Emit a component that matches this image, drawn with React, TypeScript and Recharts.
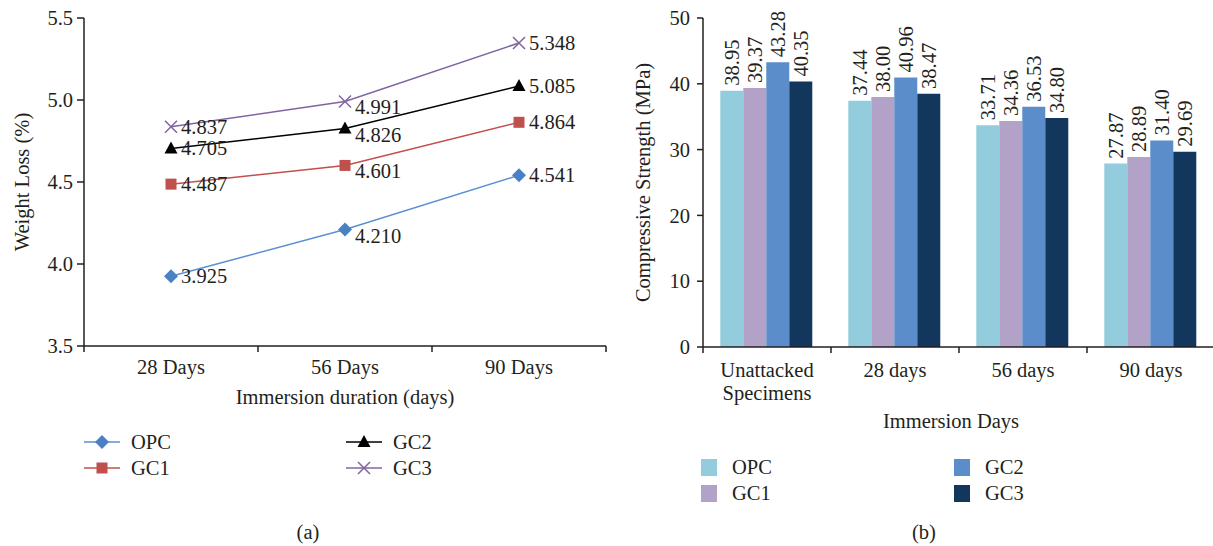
import { Bar, BarChart, Label, LabelList, Line, LineChart, Text, XAxis, YAxis } from "recharts";

// (a) weight loss
const days = ["28 Days", "56 Days", "90 Days"];
const opcLoss = [3.925, 4.21, 4.541];
const gc1Loss = [4.487, 4.601, 4.864];
const gc2Loss = [4.705, 4.826, 5.085];
const gc3Loss = [4.837, 4.991, 5.348];
const lossTicks = [3.5, 4.0, 4.5, 5.0, 5.5];

// (b) compressive strength
const stages = ["Unattacked Specimens", "28 days", "56 days", "90 days"];
const opcStrength = [38.95, 37.44, 33.71, 27.87];
const gc1Strength = [39.37, 38.0, 34.36, 28.89];
const gc2Strength = [43.28, 40.96, 36.53, 31.4];
const gc3Strength = [40.35, 38.47, 34.8, 29.69];
const strengthTicks = [0, 10, 20, 30, 40, 50];

const lossData = days.map((day, i) => ({
  day,
  OPC: opcLoss[i],
  GC1: gc1Loss[i],
  GC2: gc2Loss[i],
  GC3: gc3Loss[i],
}));

const strengthData = stages.map((stage, i) => ({
  stage,
  OPC: opcStrength[i],
  GC1: gc1Strength[i],
  GC2: gc2Strength[i],
  GC3: gc3Strength[i],
}));

const FONT = '"Liberation Serif", "DejaVu Serif", serif';
const INK = "#231f20";
const FS = 20.5;

type Shape = "diamond" | "square" | "triangle" | "x";

const lineSeries: { key: string; line: string; fill: string; shape: Shape }[] = [
  { key: "OPC", line: "#5b8fd4", fill: "#4a80c4", shape: "diamond" },
  { key: "GC1", line: "#c0504d", fill: "#c0504d", shape: "square" },
  { key: "GC2", line: "#000000", fill: "#000000", shape: "triangle" },
  { key: "GC3", line: "#8064a2", fill: "#8064a2", shape: "x" },
];

const barSeries = [
  { key: "OPC", color: "#93cddd" },
  { key: "GC1", color: "#b3a2c7" },
  { key: "GC2", color: "#5a8dca" },
  { key: "GC3", color: "#12365c" },
];

// chart geometry
const A_W = 620;
const A_H = 420;
const A_LEFT = 84;
const A_RIGHT = 14;
const A_HALF = (A_W - A_LEFT - A_RIGHT) / days.length / 2;

const B_W = 615;
const B_H = 440;
const B_LEFT = 103;
const B_HALF = (B_W - B_LEFT) / stages.length / 2;

function marker(shape: Shape, cx: number, cy: number, color: string, key?: any) {
  if (shape === "diamond")
    return <path key={key} d={`M${cx},${cy - 7}L${cx + 7},${cy}L${cx},${cy + 7}L${cx - 7},${cy}Z`} fill={color} />;
  if (shape === "square")
    return <rect key={key} x={cx - 5.5} y={cy - 5.5} width={11} height={11} fill={color} />;
  if (shape === "triangle")
    return <path key={key} d={`M${cx},${cy - 7}L${cx + 6.5},${cy + 5}L${cx - 6.5},${cy + 5}Z`} fill={color} />;
  return (
    <path
      key={key}
      d={`M${cx - 6},${cy - 6}L${cx + 6},${cy + 6}M${cx - 6},${cy + 6}L${cx + 6},${cy - 6}`}
      stroke={color}
      strokeWidth={1.5}
      fill="none"
    />
  );
}

const dayTick = (props: any) => {
  const { x, y, payload, index } = props;
  return (
    <g>
      <line x1={x - A_HALF} x2={x - A_HALF} y1={y} y2={y + 6} stroke={INK} strokeWidth={1.5} />
      {index === days.length - 1 && (
        <line x1={x + A_HALF} x2={x + A_HALF} y1={y} y2={y + 6} stroke={INK} strokeWidth={1.5} />
      )}
      <text x={x} y={y + 28} textAnchor="middle" fill={INK} fontSize={FS} fontFamily={FONT}>
        {payload.value}
      </text>
    </g>
  );
};

const stageTick = (props: any) => {
  const { x, y, payload, index } = props;
  return (
    <g>
      <line x1={x - B_HALF} x2={x - B_HALF} y1={y} y2={y + 6} stroke={INK} strokeWidth={1.5} />
      {index === stages.length - 1 && (
        <line x1={x + B_HALF} x2={x + B_HALF} y1={y} y2={y + 6} stroke={INK} strokeWidth={1.5} />
      )}
      <Text
        x={x}
        y={y + 15}
        width={120}
        textAnchor="middle"
        verticalAnchor="start"
        lineHeight={23}
        fill={INK}
        fontSize={FS}
        fontFamily={FONT}
      >
        {payload.value}
      </Text>
    </g>
  );
};

const pointLabel = (props: any) => {
  const vb = props.viewBox || {};
  const x = props.x ?? vb.x;
  const y = props.y ?? vb.y;
  const drop = props.index === 1 ? 6 : 0;
  return (
    <text x={x + 10} y={y + drop} dominantBaseline="central" fill={INK} fontSize={FS} fontFamily={FONT}>
      {Number(props.value).toFixed(3)}
    </text>
  );
};

const barLabel = (props: any) => {
  const vb = props.viewBox || props;
  const cx = vb.x + vb.width / 2;
  const top = vb.y - 5;
  return (
    <text
      x={cx}
      y={top}
      transform={`rotate(-90, ${cx}, ${top})`}
      dominantBaseline="central"
      fill={INK}
      fontSize={FS}
      fontFamily={FONT}
    >
      {Number(props.value).toFixed(2)}
    </text>
  );
};

const axisLine = { stroke: INK, strokeWidth: 1.5 };
const tickText = { fill: INK, fontSize: FS, fontFamily: FONT };

function WeightLossChart() {
  return (
    <LineChart width={A_W} height={A_H} data={lossData} margin={{ top: 18, right: A_RIGHT, left: 0, bottom: 0 }}>
      <XAxis
        dataKey="day"
        scale="band"
        height={A_H - 346}
        interval={0}
        tickSize={0}
        tickMargin={0}
        tickLine={false}
        axisLine={axisLine}
        tick={dayTick}
      >
        <Label
          value="Immersion duration (days)"
          position="insideBottom"
          offset={16}
          fill={INK}
          fontSize={FS}
          fontFamily={FONT}
        />
      </XAxis>
      <XAxis
        xAxisId="top"
        orientation="top"
        dataKey="day"
        scale="band"
        height={0}
        tick={false}
        tickLine={false}
        axisLine={axisLine}
      />
      <YAxis
        width={A_LEFT}
        domain={[3.5, 5.5]}
        ticks={lossTicks}
        tickFormatter={(v: number) => v.toFixed(1)}
        tickSize={7}
        tickMargin={4}
        tickLine={axisLine}
        axisLine={axisLine}
        tick={tickText}
      >
        <Label
          value="Weight Loss (%)"
          angle={-90}
          position="insideLeft"
          offset={22}
          fill={INK}
          fontSize={FS}
          fontFamily={FONT}
          style={{ textAnchor: "middle" }}
        />
      </YAxis>
      <YAxis yAxisId="right" orientation="right" width={0} domain={[0, 1]} tick={false} tickLine={false} axisLine={axisLine} />
      {lineSeries.map((s) => (
        <Line
          key={s.key}
          dataKey={s.key}
          stroke={s.line}
          strokeWidth={1.5}
          isAnimationActive={false}
          dot={(p: any) => marker(s.shape, p.cx, p.cy, s.fill, `${s.key}-${p.index}`)}
          activeDot={false}
        >
          <LabelList dataKey={s.key} content={pointLabel} />
        </Line>
      ))}
    </LineChart>
  );
}

function StrengthChart() {
  return (
    <BarChart
      width={B_W}
      height={B_H}
      data={strengthData}
      margin={{ top: 18, right: 0, left: 0, bottom: 0 }}
      barCategoryGap="13.5%"
      barGap={0}
    >
      <XAxis
        dataKey="stage"
        height={B_H - 347}
        interval={0}
        tickSize={0}
        tickMargin={0}
        tickLine={false}
        axisLine={axisLine}
        tick={stageTick}
      >
        <Label value="Immersion Days" position="insideBottom" offset={12} dx={-8} fill={INK} fontSize={FS} fontFamily={FONT} />
      </XAxis>
      <YAxis
        width={B_LEFT}
        domain={[0, 50]}
        ticks={strengthTicks}
        tickSize={6}
        tickMargin={7}
        tickLine={axisLine}
        axisLine={axisLine}
        tick={tickText}
      >
        <Label
          value="Compressive Strength (MPa)"
          angle={-90}
          position="insideLeft"
          offset={43}
          fill={INK}
          fontSize={FS}
          fontFamily={FONT}
          style={{ textAnchor: "middle" }}
        />
      </YAxis>
      {barSeries.map((s) => (
        <Bar key={s.key} dataKey={s.key} fill={s.color} isAnimationActive={false}>
          <LabelList dataKey={s.key} content={barLabel} />
        </Bar>
      ))}
    </BarChart>
  );
}

const legendText: React.CSSProperties = { fontSize: FS, fontFamily: FONT, color: INK, lineHeight: "26px" };

function LineLegend() {
  const order = ["OPC", "GC2", "GC1", "GC3"];
  return (
    <div
      style={{
        position: "absolute",
        left: 84,
        top: 429,
        display: "grid",
        gridTemplateColumns: "262px 200px",
        gridAutoRows: "26px",
      }}
    >
      {order.map((k) => {
        const s = lineSeries.find((d) => d.key === k)!;
        return (
          <div key={k} style={{ display: "flex", alignItems: "center" }}>
            <svg width={36} height={16} style={{ marginRight: 11 }}>
              <line x1={0} x2={36} y1={8} y2={8} stroke={s.line} strokeWidth={1.5} />
              {marker(s.shape, 18, 8, s.fill)}
            </svg>
            <span style={legendText}>{k}</span>
          </div>
        );
      })}
    </div>
  );
}

function BarLegend() {
  const order = ["OPC", "GC2", "GC1", "GC3"];
  return (
    <div
      style={{
        position: "absolute",
        left: 701,
        top: 454,
        display: "grid",
        gridTemplateColumns: "253px 150px",
        gridAutoRows: "26px",
      }}
    >
      {order.map((k) => {
        const s = barSeries.find((d) => d.key === k)!;
        return (
          <div key={k} style={{ display: "flex", alignItems: "center" }}>
            <div style={{ width: 16, height: 17, background: s.color, marginRight: 15 }} />
            <span style={legendText}>{k}</span>
          </div>
        );
      })}
    </div>
  );
}

const caption: React.CSSProperties = {
  position: "absolute",
  top: 521,
  width: 60,
  textAlign: "center",
  fontSize: FS,
  fontFamily: FONT,
  color: INK,
};

export default function App() {
  return (
    <div
      style={{
        position: "absolute",
        left: 0,
        top: 0,
        width: 1213,
        height: 546,
        overflow: "hidden",
        background: "#fff",
      }}
    >
      <div style={{ position: "absolute", left: 0, top: 0 }}>
        <WeightLossChart />
      </div>
      <div style={{ position: "absolute", left: 600, top: 0 }}>
        <StrengthChart />
      </div>
      <LineLegend />
      <BarLegend />
      <div style={{ ...caption, left: 278 }}>(a)</div>
      <div style={{ ...caption, left: 894 }}>(b)</div>
    </div>
  );
}
